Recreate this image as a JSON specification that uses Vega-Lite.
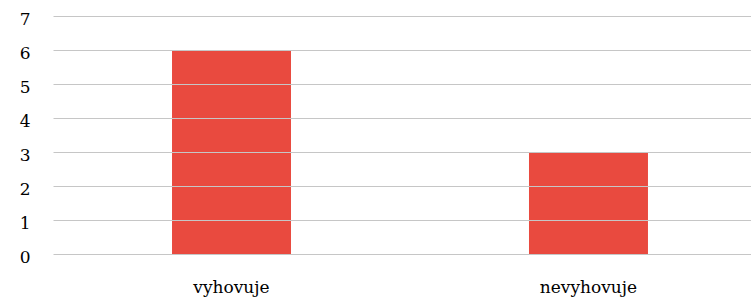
{
  "$schema": "https://vega.github.io/schema/vega-lite/v6.json",
  "autosize": "none",
  "width": 698,
  "height": 238,
  "padding": {"left": 53, "top": 16, "right": 0, "bottom": 44},
  "background": "white",
  "config": {"view": {"stroke": null}},
  "data": {"values": [
    {"kategorie": "vyhovuje", "pocet": 6},
    {"kategorie": "nevyhovuje", "pocet": 3}
  ]},
  "mark": {"type": "bar", "color": "#E94A3F"},
  "encoding": {
    "x": {
      "field": "kategorie", "type": "nominal", "sort": null,
      "scale": {"paddingInner": 0.6667, "paddingOuter": 0.311, "align": 0.536},
      "axis": {"title": null, "domain": false, "ticks": false, "grid": false, "labelAngle": 0,
               "labelFont": "DejaVu Serif", "labelFontSize": 17, "labelColor": "#000000", "labelPadding": 25}
    },
    "y": {
      "field": "pocet", "type": "quantitative",
      "scale": {"domain": [0, 7], "nice": false},
      "axis": {"title": null, "domain": false, "ticks": false, "values": [0,1,2,3,4,5,6,7],
               "grid": true, "gridColor": "#c6c6c6", "gridWidth": 1, "zindex": 1,
               "labelFont": "DejaVu Serif", "labelFontSize": 17, "labelColor": "#000000",
               "labelPadding": 23, "labelOffset": 3}
    }
  }
}
